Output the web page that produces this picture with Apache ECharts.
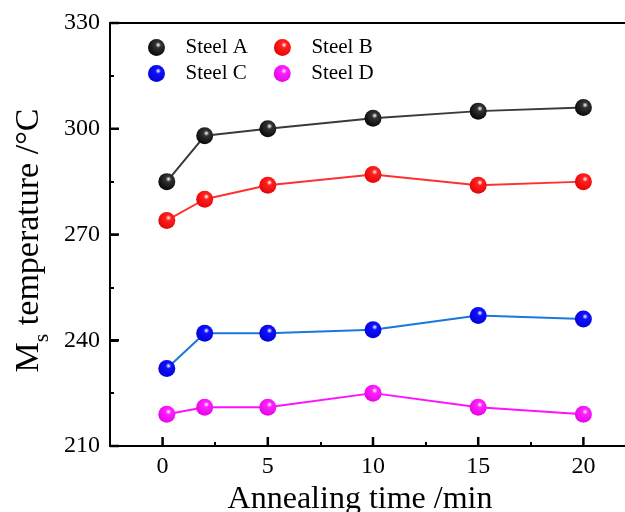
<!DOCTYPE html>
<html>
<head>
<meta charset="utf-8">
<script src="https://cdn.jsdelivr.net/npm/echarts@6/dist/echarts.min.js"></script>
<style>html,body{margin:0;padding:0;background:#fff}#c{width:625px;height:512px}</style>
</head>
<body>
<div id="c"></div>
<script>
const times = [0.2, 2, 5, 10, 15, 20];
const steelA = [285, 298, 300, 303, 305, 306];
const steelB = [274, 280, 284, 287, 284, 285];
const steelC = [232, 242, 242, 243, 247, 246];
const steelD = [219, 221, 221, 225, 221, 219];
const seriesNames = ['Steel A', 'Steel B', 'Steel C', 'Steel D'];
const xMajorTicks = [0, 5, 10, 15, 20];
const yMajorTicks = [210, 240, 270, 300, 330];
const X_MIN = -2.5, X_MAX = 22.5, Y_MIN = 210, Y_MAX = 330;

const FONT = "'Liberation Serif', 'Times New Roman', serif";

function sphere(base, dark) {
  return {
    type: 'radial', x: 0.6, y: 0.35, r: 0.75,
    colorStops: [
      {offset: 0, color: '#ffffff'},
      {offset: 0.22, color: base},
      {offset: 1, color: dark}
    ]
  };
}
const styles = [
  {line: '#3a3a3a', fill: sphere('#333333', '#000000')},
  {line: '#ff3030', fill: sphere('#ff2020', '#e00000')},
  {line: '#1878dc', fill: sphere('#1010ff', '#0000d0')},
  {line: '#ff10ff', fill: sphere('#ff20ff', '#e000e0')}
];
const values = [steelA, steelB, steelC, steelD];

const series = seriesNames.map((n, i) => ({
  name: n,
  type: 'line',
  xAxisIndex: 0,
  yAxisIndex: 0,
  data: times.map((t, k) => [t, values[i][k]]),
  symbol: 'circle',
  symbolSize: 17,
  lineStyle: {color: styles[i].line, width: 2},
  itemStyle: {color: styles[i].fill},
  z: 3
}));

// major ticks (inward), placed through the axes' own scales
series.push({
  type: 'custom', xAxisIndex: 0, yAxisIndex: 0, silent: true, clip: false, z: 10,
  data: xMajorTicks.map(v => [v, Y_MIN]),
  renderItem: function (params, api) {
    const p = api.coord([api.value(0), api.value(1)]);
    return {type: 'line', shape: {x1: p[0], y1: p[1], x2: p[0], y2: p[1] - 9},
            style: {stroke: '#000', lineWidth: 2.5}};
  }
});
series.push({
  type: 'custom', xAxisIndex: 0, yAxisIndex: 0, silent: true, clip: false, z: 10,
  data: yMajorTicks.map(v => [X_MIN, v]),
  renderItem: function (params, api) {
    const p = api.coord([api.value(0), api.value(1)]);
    return {type: 'line', shape: {x1: p[0], y1: p[1], x2: p[0] + 9, y2: p[1]},
            style: {stroke: '#000', lineWidth: 2.5}};
  }
});

const tickLine = {color: '#000', width: 2};

const chart = echarts.init(document.getElementById('c'));
chart.setOption({
  animation: false,
  backgroundColor: '#fff',
  grid: {left: 110, top: 23, height: 423, width: 526, outerBoundsMode: 'none', containLabel: false,
         show: true, borderColor: '#000', borderWidth: 2},
  legend: [
    {data: [seriesNames[0], seriesNames[1]], icon: 'circle', left: 143, top: 32, itemWidth: 48, itemHeight: 17, itemGap: 26,
     textStyle: {fontFamily: FONT, fontSize: 21, color: '#000'}},
    {data: [seriesNames[2], seriesNames[3]], icon: 'circle', left: 143, top: 58, itemWidth: 48, itemHeight: 17, itemGap: 27,
     textStyle: {fontFamily: FONT, fontSize: 21, color: '#000'}}
  ],
  xAxis: [
    {type: 'value', min: X_MIN, max: X_MAX, interval: 2.5,
     name: 'Annealing time /min', nameLocation: 'middle', nameGap: 22,
     nameTextStyle: {fontFamily: FONT, fontSize: 32, color: '#000', padding: [0, 26, 0, 0]},
     axisLine: {show: true, onZero: false, lineStyle: {color: '#000', width: 2}},
     axisTick: {show: false},
     axisLabel: {customValues: xMajorTicks, margin: 9, fontFamily: FONT, fontSize: 24, color: '#000'},
     splitLine: {show: false}},
    {type: 'value', min: X_MIN, max: X_MAX, interval: 5, position: 'top', offset: -423,
     axisLine: {show: false, onZero: false},
     axisTick: {show: true, inside: false, length: 4, lineStyle: tickLine},
     minorTick: {show: false},
     axisLabel: {show: false}, splitLine: {show: false}, minorSplitLine: {show: false}}
  ],
  yAxis: [
    {type: 'value', min: Y_MIN, max: Y_MAX, interval: 30,
     name: '{m|M}{s|s}{t| temperature /°C}', nameLocation: 'middle', nameGap: 46, nameRotate: 90,
     nameTextStyle: {fontFamily: FONT, fontSize: 34, color: '#000', padding: [0, 12, 0, 0],
       rich: {m: {fontFamily: FONT, fontSize: 34, verticalAlign: 'bottom', padding: [0, 0, 7, 0]},
              s: {fontFamily: FONT, fontSize: 22, verticalAlign: 'bottom'},
              t: {fontFamily: FONT, fontSize: 34, verticalAlign: 'bottom', padding: [0, 0, 7, 0]}}},
     axisLine: {show: true, onZero: false, lineStyle: {color: '#000', width: 2}},
     axisTick: {show: false},
     axisLabel: {margin: 10, fontFamily: FONT, fontSize: 24, color: '#000'},
     splitLine: {show: false}},
    {type: 'value', min: Y_MIN, max: Y_MAX, interval: 30, position: 'right', offset: -526,
     axisLine: {show: false, onZero: false},
     axisTick: {show: true, inside: false, length: 8, lineStyle: tickLine},
     minorTick: {show: true, splitNumber: 2, length: 4, lineStyle: tickLine},
     axisLabel: {show: false}, splitLine: {show: false}, minorSplitLine: {show: false}}
  ],
  series: series
});
</script>
</body>
</html>
